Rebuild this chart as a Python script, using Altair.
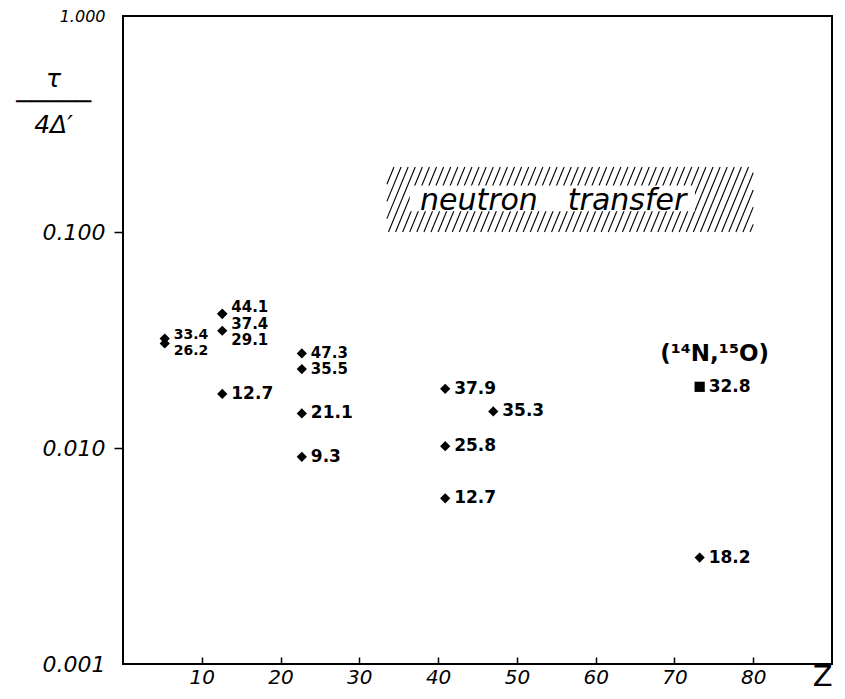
import altair as alt
import numpy as np
import pandas as pd

# ---------------- data ----------------
pt_z = [5.3, 5.3, 12.6, 12.6, 12.6, 12.6, 22.7, 22.7, 22.7, 22.7,
        40.9, 47.0, 40.9, 40.9, 73.2, 73.2]
pt_tau = [0.0321, 0.0305, 0.0418, 0.0418, 0.0349, 0.0178,
          0.0274, 0.0232, 0.01445, 0.0091,
          0.0188, 0.01476, 0.0102, 0.00585,
          0.0192, 0.00311]
pt_label = ["33.4", "26.2", "44.1", "37.4", "29.1", "12.7",
            "47.3", "35.5", "21.1", "\u20079.3",
            "37.9", "35.3", "25.8", "12.7",
            "32.8", "18.2"]
label_tau = [0.0332, 0.0280, 0.0450, 0.0376, 0.0315, 0.0178,
             0.0274, 0.0232, 0.01445, 0.0091,
             0.0188, 0.01476, 0.0102, 0.00585,
             0.0192, 0.00311]
pt_shape = ["diamond"] * 14 + ["square", "diamond"]
label_fs = [14, 14, 15, 15, 15, 17, 15, 15, 17, 17, 17, 17, 17, 17, 17, 17]

x_ticks = [10, 20, 30, 40, 50, 60, 70, 80]
y_ticks = [0.001, 0.01, 0.1, 1.0]

# neutron transfer band
band_z = [33.5, 80.0]
band_tau = [0.1, 0.2]
text_box_z = [36.4, 72.6]
text_box_tau = [0.1247, 0.164]
band_text = ["neutron\u2002\u2002transfer"]
band_text_z = [54.6]
band_text_tau = [0.1386]

reaction_text = ["(\u00b9\u2074N,\u00b9\u2075O)"]
reaction_z = [75.1]
reaction_tau = [0.0272]

# ---------------- tables ----------------
pts = pd.DataFrame({"Z": pt_z, "tau": pt_tau, "label": pt_label,
                    "ltau": label_tau, "shape": pt_shape, "fs": label_fs})

# hatching lines (decoration) clipped to the band
hatch_dx = 3.4
hatch_step = 0.9
rows = []
for x0 in np.arange(band_z[0] - hatch_dx, band_z[1], hatch_step):
    t0 = max(0.0, (band_z[0] - x0) / hatch_dx)
    t1 = min(1.0, (band_z[1] - x0) / hatch_dx)
    if t1 <= t0:
        continue
    ly0, ly1 = np.log10(band_tau[0]), np.log10(band_tau[1])
    rows.append({"x": x0 + hatch_dx * t0, "x2": x0 + hatch_dx * t1,
                 "y": 10 ** (ly0 + t0 * (ly1 - ly0)),
                 "y2": 10 ** (ly0 + t1 * (ly1 - ly0))})
hatch = pd.DataFrame(rows)
box = pd.DataFrame({"x": [text_box_z[0]], "x2": [text_box_z[1]],
                    "y": [text_box_tau[0]], "y2": [text_box_tau[1]]})
btxt = pd.DataFrame({"Z": band_text_z, "tau": band_text_tau, "t": band_text})
rtxt = pd.DataFrame({"Z": reaction_z, "tau": reaction_tau, "t": reaction_text})

FONT = "DejaVu Sans"

xscale = alt.Scale(domain=[0, 90], nice=False, zero=False)
yscale = alt.Scale(type="log", domain=[0.001, 1.0], nice=False)

xaxis = alt.Axis(values=x_ticks, domain=False, grid=False, tickSize=7, tickWidth=1.5,
                 tickColor="black", offset=-7, labelPadding=3, labelFont=FONT,
                 labelFontStyle="italic", labelFontSize=20, labelColor="black",
                 labelFlush=False, labelOverlap=False,
                 title="Z", titleFont=FONT, titleFontSize=29, titleFontWeight="normal",
                 titleColor="black", titleX=709, titleY=5, titleAlign="right",
                 titleBaseline="top", titleAngle=0)
yaxis = alt.Axis(values=y_ticks, format=".3f", domain=False, grid=False, tickSize=9,
                 tickWidth=1.5, tickColor="black",
                 tickOpacity={"condition": {"test": "datum.value > 0.005 && datum.value < 0.5",
                                            "value": 1}, "value": 0},
                 labelPadding=9, labelFont=FONT, labelFontStyle="italic",
                 labelFontSize={"condition": {"test": "datum.value > 0.5", "value": 16},
                                "value": 22},
                 labelColor="black", labelFlush=False, labelOverlap=False,
                 title=["\u03c4", "\u2500\u2500\u2500\u2500\u2500", "4\u0394\u2032"],
                 titleFont=FONT, titleFontSize=25, titleFontStyle="italic",
                 titleFontWeight="normal", titleColor="black", titleAngle=0,
                 titleAlign="center", titleBaseline="alphabetic", titleLineHeight=23,
                 titleX=-70, titleY=70)

hatch_layer = alt.Chart(hatch).mark_rule(color="black", strokeWidth=1.1).encode(
    x=alt.X("x:Q", scale=xscale, axis=xaxis),
    x2="x2:Q",
    y=alt.Y("y:Q", scale=yscale, axis=yaxis),
    y2="y2:Q",
)
box_layer = alt.Chart(box).mark_rect(color="white").encode(
    x="x:Q", x2="x2:Q", y="y:Q", y2="y2:Q")
btxt_layer = alt.Chart(btxt).mark_text(font=FONT, fontSize=30, fontStyle="italic",
                                       color="black", align="center",
                                       baseline="middle").encode(
    x="Z:Q", y="tau:Q", text="t:N")
pts_layer = alt.Chart(pts).mark_point(filled=True, color="black", opacity=1).encode(
    x="Z:Q", y="tau:Q",
    shape=alt.Shape("shape:N", scale=None),
    size=alt.value(105),
)
lbl_layer = alt.Chart(pts).mark_text(font=FONT, fontWeight="bold", color="black",
                                     align="left", baseline="middle", dx=9).encode(
    x="Z:Q", y="ltau:Q", text="label:N",
    size=alt.Size("fs:Q", scale=None),
)
rtxt_layer = alt.Chart(rtxt).mark_text(font=FONT, fontWeight="bold", fontSize=23,
                                       color="black", align="center",
                                       baseline="middle").encode(
    x="Z:Q", y="tau:Q", text="t:N")

chart = alt.layer(hatch_layer, box_layer, btxt_layer, pts_layer, lbl_layer,
                  rtxt_layer).properties(
    width=709, height=648,
    autosize=alt.AutoSizeParams(type="none"),
    padding={"left": 115, "top": 8, "right": 5, "bottom": 28},
    background="white",
).configure_view(stroke="black", strokeWidth=2)

chart.save("out.html", embed_options={"renderer": "svg", "actions": False})
